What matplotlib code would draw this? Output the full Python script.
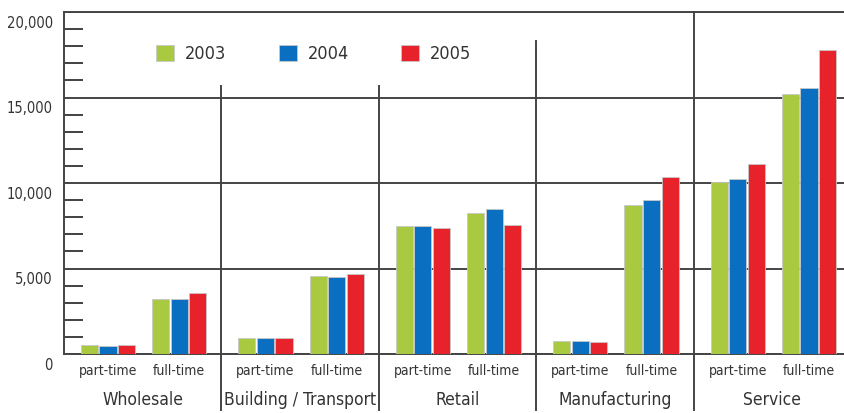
import matplotlib.pyplot as plt
from matplotlib.patches import Patch
from matplotlib.transforms import ScaledTranslation, blended_transform_factory

plt.rcParams['font.family'] = ['DejaVu Sans']
plt.rcParams['font.stretch'] = 'condensed'

GREEN, BLUE, RED = "#a9c940", "#0a6fc0", "#e8222a"
INK = "#333333"

sectors = ["Wholesale", "Building / Transport", "Retail", "Manufacturing", "Service"]
kinds = ["part-time", "full-time"]
years = ["2003", "2004", "2005"]

# values per year, order: sector x (part-time, full-time)
v2003 = [500, 3200, 940, 4560, 7470, 8230, 760, 8700, 10050, 15210]
v2004 = [480, 3230, 940, 4490, 7470, 8470, 760, 9010, 10240, 15540]
v2005 = [500, 3590, 960, 4680, 7390, 7560, 700, 10340, 11100, 17780]

# height at which each sector divider starts (top), between sectors
divider_tops = [15700, 15700, 18300, 20000]

fig = plt.figure(figsize=(8.44, 4.13), dpi=100)
ax = fig.add_axes([64 / 844, 1 - 354 / 413, 1 - 64 / 844, 342 / 413])

centers = []
for g in range(len(sectors)):
    for s in range(2):
        centers.append(2 * g + 0.56 + s * 0.905)

bw, step = 0.218, 0.236
for k, (vals, col) in enumerate(zip([v2003, v2004, v2005], [GREEN, BLUE, RED])):
    xs = [c + (k - 1) * step for c in centers]
    ax.bar(xs, vals, width=bw, color=col, edgecolor="#c8c8c8", lw=0.6, zorder=3)

ax.set_xlim(0, 9.91)
ax.set_ylim(0, 20000)

ax.set_yticks([0, 5000, 10000, 15000, 20000])
ax.set_yticklabels(["0", "5,000", "10,000", "15,000", "20,000"])
ax.set_yticks([v for v in range(1000, 20000, 1000) if v % 5000], minor=True)
ax.tick_params(axis="y", which="major", length=0, pad=8, labelsize=10.5, labelcolor=INK)
ax.tick_params(axis="y", which="minor", direction="in", length=13.5, width=1.3, color=INK)
off = ScaledTranslation(0, -7 / 72, fig.dpi_scale_trans)
for lab in ax.get_yticklabels():
    lab.set_transform(lab.get_transform() + off)

ax.set_xticks(centers)
ax.set_xticklabels(kinds * len(sectors))
ax.tick_params(axis="x", length=0, pad=7, labelsize=10, labelcolor=INK)

ax.grid(axis="y", which="major", color="#444444", lw=1.4, zorder=1)
for side in ["left", "top", "bottom"]:
    ax.spines[side].set_color("#444444")
    ax.spines[side].set_linewidth(1.4)
ax.spines["right"].set_visible(False)

trans = blended_transform_factory(ax.transData, ax.transAxes)
for g, top in enumerate(divider_tops):
    x = 2 * (g + 1)
    ax.plot([x, x], [-0.165, top / 20000], transform=trans, color="#444444",
            lw=1.4, clip_on=False, zorder=2)

for g, name in enumerate(sectors):
    ax.text(2 * g + 1, -0.135, name, transform=trans, ha="center", va="center",
            fontsize=12.5, color=INK)

handles = [Patch(facecolor=c, edgecolor="#c8c8c8", lw=0.6) for c in [GREEN, BLUE, RED]]
ax.legend(handles, years, ncol=3, frameon=False, loc="upper left",
          bbox_to_anchor=(85 / 780, 1 - 26 / 342), fontsize=13, labelcolor=INK,
          handlelength=1.0, handleheight=1.0, handletextpad=0.6, columnspacing=2.9,
          borderaxespad=0)

fig.savefig("out.png", dpi=100)
